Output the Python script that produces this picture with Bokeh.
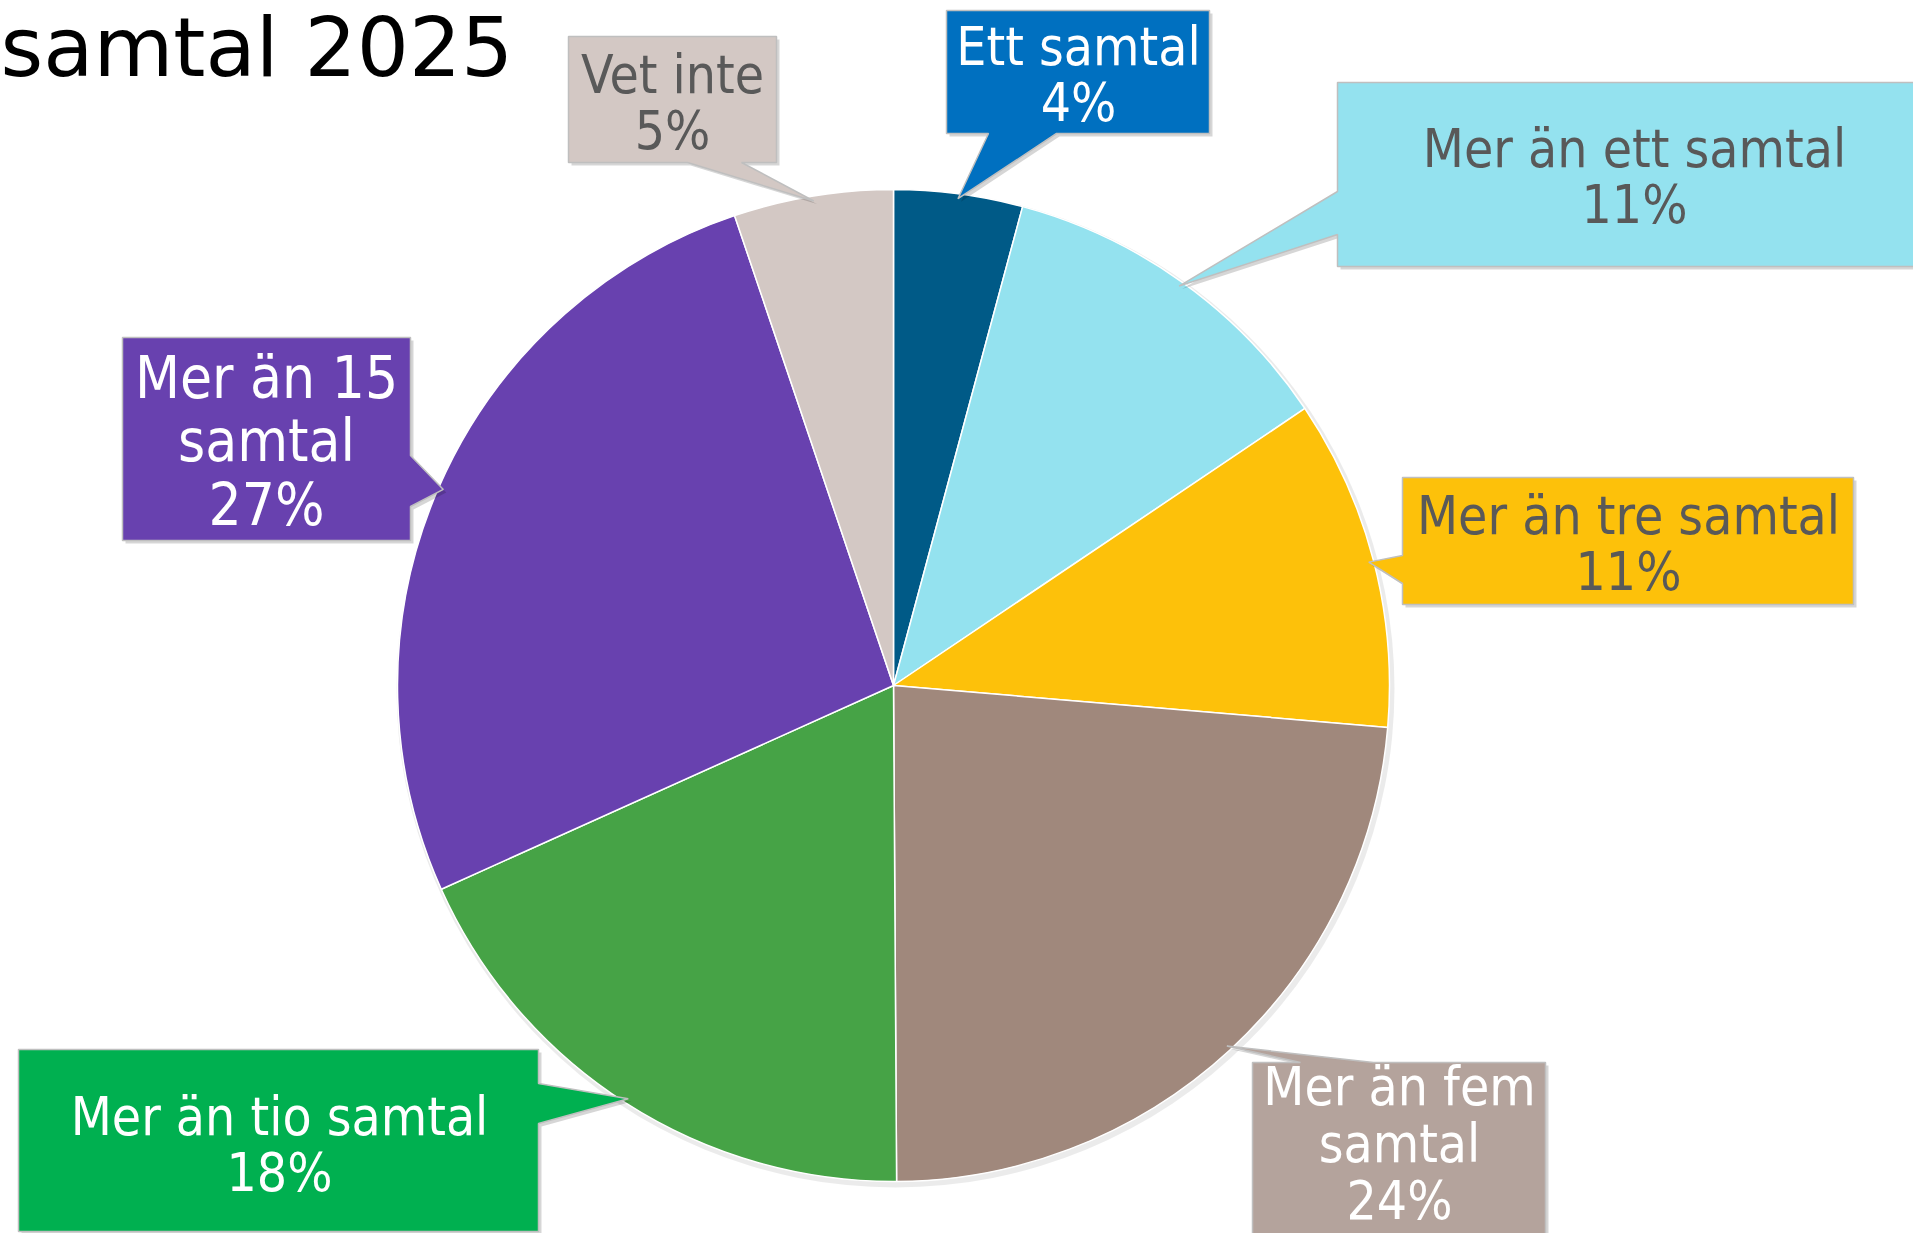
import numpy as np
from bokeh.plotting import figure
from bokeh.models import Range1d
from bokeh.embed import file_html
from bokeh.resources import INLINE
from bokeh.core.properties import value

# ---------------- data ----------------
title_text = "samtal 2025"
categories = ["Ett samtal", "Mer än ett samtal", "Mer än tre samtal",
              "Mer än fem samtal", "Mer än tio samtal", "Mer än 15 samtal", "Vet inte"]
label_names = ["Ett samtal", "Mer än ett samtal", "Mer än tre samtal",
               "Mer än fem\nsamtal", "Mer än tio samtal", "Mer än 15\nsamtal", "Vet inte"]
shares = [4.2, 11.4, 10.8, 23.6, 18.4, 26.6, 5.2]        # slice sizes
pct_labels = ["4%", "11%", "11%", "24%", "18%", "27%", "5%"]  # printed labels

# ---------------- styles ----------------
FONT = "DejaVu Sans Condensed"
TITLE_FONT = "DejaVu Sans"
slice_colors = ["#005A87", "#94E2EF", "#FDC10A", "#A0887C", "#46A346", "#6841AF", "#D3C8C4"]
box_colors = ["#0070C0", "#94E2EF", "#FDC10A", "#B4A39C", "#00B050", "#6841AF", "#D3C8C4"]
text_colors = ["white", "#595959", "#595959", "white", "white", "white", "#595959"]
font_sizes = [53, 53, 53, 53, 53, 58, 53]

# layout in screen pixels (x0, x1, y0, y1), pointer edge, pointer base
boxes = [(946, 1209, 10, 133), (1337, 1935, 82, 266), (1402, 1853, 477, 604),
         (1252, 1545, 1062, 1262), (18, 538, 1049, 1231), (122, 410, 337, 540),
         (568, 776, 36, 162)]
edges = ["bottom", "left", "left", "top", "right", "right", "bottom"]
bases = [(988, 1056), (191, 234), (555, 583), (1300, 1373), (1083, 1123), (455, 506), (687, 741)]
text_pos = [(1078, 74), (1634, 176), (1628, 543), (1399, 1143), (279, 1144), (266, 441), (672, 102)]

FW, FH = 1913, 1233
H = 1249
CX, CY, R = 893, 685, 496


def Y(y):
    return H - y


p = figure(width=FW, height=FH, output_backend="svg", toolbar_location=None,
           x_range=Range1d(0, FW), y_range=Range1d(H - FH, H), min_border=0)
p.axis.visible = False
p.grid.visible = False
p.outline_line_color = None
p.background_fill_color = "white"
p.border_fill_color = "white"

# pie
vals = np.array(shares, dtype=float)
frac = vals / vals.sum()
cum = np.concatenate([[0], np.cumsum(frac)])
start = np.pi / 2 - 2 * np.pi * cum[:-1]
end = np.pi / 2 - 2 * np.pi * cum[1:]
mid = (start + end) / 2

p.scatter([CX + 2], [Y(CY) - 3], size=2 * R + 6, marker="circle", fill_color="#000000",
          fill_alpha=0.08, line_color=None)
p.wedge(x=[CX] * len(shares), y=[Y(CY)] * len(shares), radius=R, start_angle=list(start),
        end_angle=list(end), direction="clock", fill_color=slice_colors,
        line_color="white", line_width=1.5)

# callouts
for i in range(len(shares)):
    x0, x1, y0, y1 = boxes[i]
    b1, b2 = bases[i]
    tx = CX + R * 0.99 * np.cos(mid[i])
    ty = CY - R * 0.99 * np.sin(mid[i])
    tip = (tx, ty)
    e = edges[i]
    if e == "bottom":
        pts = [(x0, y0), (x1, y0), (x1, y1), (b2, y1), tip, (b1, y1), (x0, y1)]
    elif e == "top":
        pts = [(x0, y0), (b1, y0), tip, (b2, y0), (x1, y0), (x1, y1), (x0, y1)]
    elif e == "left":
        pts = [(x0, y0), (x1, y0), (x1, y1), (x0, y1), (x0, b2), tip, (x0, b1)]
    else:
        pts = [(x0, y0), (x1, y0), (x1, b1), tip, (x1, b2), (x1, y1), (x0, y1)]
    xs = [pt[0] for pt in pts]
    ys = [Y(pt[1]) for pt in pts]
    p.patch([x + 3 for x in xs], [y - 3 for y in ys], fill_color="#000000", fill_alpha=0.16,
            line_color=None)
    p.patch(xs, ys, fill_color=box_colors[i], line_color="#BFBFBF", line_width=1.5)
    p.text(x=[text_pos[i][0]], y=[Y(text_pos[i][1])],
           text=[f"{label_names[i]}\n{pct_labels[i]}"],
           text_align="center", text_baseline="middle", text_font=value(FONT),
           text_font_size=f"{font_sizes[i]}px", text_color=text_colors[i],
           text_line_height=0.93)

# title
p.text(x=[0], y=[Y(47)], text=[title_text], text_align="left", text_baseline="middle",
       text_font=value(TITLE_FONT), text_font_size="82px", text_color="black")

open("out.html", "w").write(file_html(p, INLINE))
